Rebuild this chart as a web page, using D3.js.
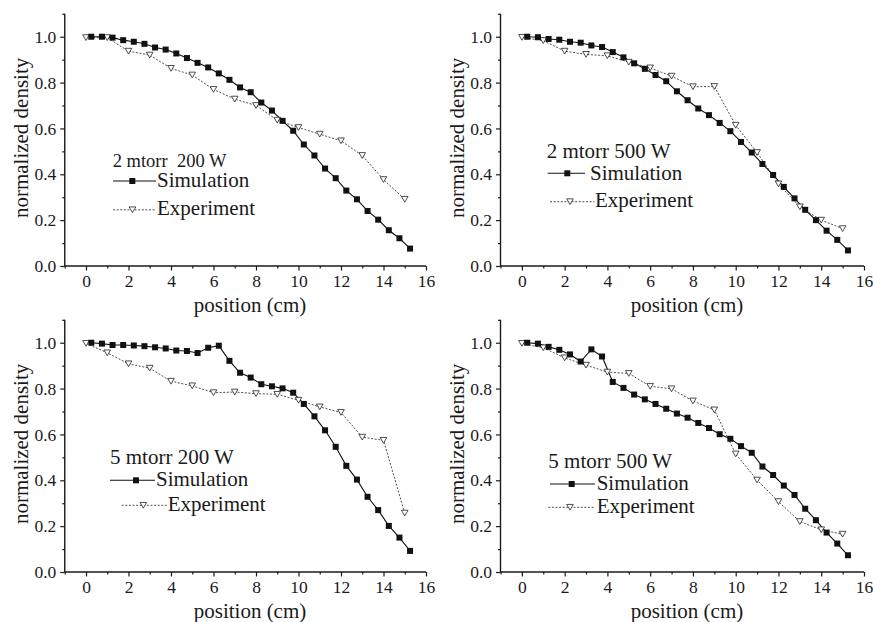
<!DOCTYPE html>
<html>
<head>
<meta charset="utf-8">
<script src="https://cdn.jsdelivr.net/npm/d3@7"></script>
<style>
  body { margin: 0; background: #fff; }
  .domain, .tick line { stroke: #1a1a1a; }
</style>
</head>
<body>
<div id="chart"></div>
<script>
// positions (cm)
const simPos = [0.25, 0.75, 1.25, 1.75, 2.25, 2.75, 3.25, 3.75, 4.25, 4.75, 5.25, 5.75, 6.25, 6.75, 7.25,
  7.75, 8.25, 8.75, 9.25, 9.75, 10.25, 10.75, 11.25, 11.75, 12.25, 12.75, 13.25, 13.75, 14.25, 14.75, 15.25];
const expPos = [0, 1, 2, 3, 4, 5, 6, 7, 8, 9, 10, 11, 12, 13, 14, 15];

// normalized density
const sim_2_200 = [1.0, 1.0, 0.996, 0.985, 0.978, 0.969, 0.953, 0.944, 0.927, 0.907, 0.886, 0.866, 0.84, 0.812, 0.779,
  0.758, 0.713, 0.678, 0.633, 0.59, 0.53, 0.482, 0.425, 0.383, 0.329, 0.291, 0.24, 0.202, 0.156, 0.121, 0.076];
const exp_2_200 = [0.996, 0.996, 0.937, 0.92, 0.862, 0.833, 0.77, 0.728, 0.7, 0.636, 0.604, 0.575, 0.546, 0.482, 0.377, 0.291];

const sim_2_500 = [1.0, 0.998, 0.99, 0.987, 0.978, 0.974, 0.962, 0.955, 0.933, 0.91, 0.884, 0.86, 0.833, 0.806, 0.762,
  0.723, 0.687, 0.658, 0.624, 0.588, 0.541, 0.495, 0.445, 0.397, 0.345, 0.295, 0.245, 0.2, 0.154, 0.114, 0.068];
const exp_2_500 = [0.997, 0.983, 0.937, 0.923, 0.917, 0.889, 0.864, 0.828, 0.782, 0.783, 0.614, 0.495, 0.358, 0.258, 0.2, 0.163];

const sim_5_200 = [1.0, 0.996, 0.99, 0.99, 0.988, 0.985, 0.98, 0.975, 0.966, 0.964, 0.955, 0.978, 0.987, 0.921, 0.869,
  0.848, 0.819, 0.81, 0.801, 0.782, 0.733, 0.679, 0.618, 0.546, 0.463, 0.403, 0.328, 0.27, 0.201, 0.15, 0.092];
const exp_5_200 = [0.997, 0.956, 0.908, 0.889, 0.832, 0.812, 0.782, 0.785, 0.778, 0.775, 0.749, 0.72, 0.696, 0.588, 0.574, 0.257];

const sim_5_500 = [1.0, 0.996, 0.982, 0.969, 0.949, 0.918, 0.971, 0.94, 0.829, 0.803, 0.774, 0.753, 0.733, 0.712, 0.691,
  0.673, 0.65, 0.628, 0.601, 0.581, 0.549, 0.52, 0.46, 0.423, 0.377, 0.336, 0.276, 0.226, 0.172, 0.124, 0.073];
const exp_5_500 = [0.997, 0.978, 0.934, 0.902, 0.872, 0.866, 0.81, 0.799, 0.746, 0.707, 0.515, 0.401, 0.307, 0.22, 0.184, 0.165];

const titles = ['2 mtorr  200 W', '2 mtorr 500 W', '5 mtorr 200 W', '5 mtorr 500 W'];
const xMajor = [0, 2, 4, 6, 8, 10, 12, 14, 16];
const xMinor = [-1, 1, 3, 5, 7, 9, 11, 13, 15];
const yMajor = [0, 0.2, 0.4, 0.6, 0.8, 1.0];
const yMinor = [0.1, 0.3, 0.5, 0.7, 0.9, 1.1];

const width = 873, height = 622;
const serif = '"Liberation Serif", "Times New Roman", serif';

const svg = d3.select('#chart').append('svg')
  .attr('width', width)
  .attr('height', height);

// panel layout: x range (for -1..16), y range (for 0..1.1), legend spots
let panels = [
  { sim: sim_2_200, exp: exp_2_200, xr: [64.75, 426], yr: [266, 13.8],
    leg: { tSize: 18.5, title: [112.7, 166.5], sim: [113, 156, 181, 132.3], simT: [157, 187], exp: [113, 156, 209.8, 132.5], expT: [157, 215] } },
  { sim: sim_2_500, exp: exp_2_500, xr: [500.5, 864], yr: [266, 13.8],
    leg: { tSize: 21, title: [546.7, 158], sim: [547.7, 585, 173.3, 567.3], simT: [590, 180], exp: [550, 594.3, 201.7, 570], expT: [595, 206.7] } },
  { sim: sim_5_200, exp: exp_5_200, xr: [64.75, 426], yr: [572, 319.8],
    leg: { tSize: 21, title: [110, 464], sim: [110, 155, 480.3, 136], simT: [156, 486.4], exp: [121.7, 166.7, 505.3, 143.3], expT: [167.7, 511] } },
  { sim: sim_5_500, exp: exp_5_500, xr: [500.5, 864], yr: [572, 319.8],
    leg: { tSize: 21, title: [548.3, 468], sim: [550, 595, 484, 571.7], simT: [596.7, 490.4], exp: [548.3, 595, 507.3, 570], expT: [596.7, 513] } }
];

let sq = 6;     // square marker side
let tri = 6.6;  // triangle marker width

function triPath(cx, cy) {
  let h = tri * 0.87;
  return 'M' + (cx - tri / 2) + ',' + (cy - h / 2) + 'L' + (cx + tri / 2) + ',' + (cy - h / 2) + 'L' + cx + ',' + (cy + h / 2) + 'Z';
}

panels.forEach((p, k) => {
  let x = d3.scaleLinear().domain([-1, 16]).range(p.xr);
  let y = d3.scaleLinear().domain([0, 1.1]).range(p.yr);
  let g = svg.append('g');

  // axes
  let xAx = g.append('g').attr('transform', 'translate(0,' + y(0) + ')')
    .call(d3.axisBottom(x).tickValues(xMajor).tickSize(4.5).tickPadding(4).tickFormat(d3.format('d')));
  g.append('g').attr('transform', 'translate(0,' + y(0) + ')')
    .call(d3.axisBottom(x).tickValues(xMinor).tickSize(2.5).tickFormat(''))
    .select('.domain').remove();
  let yAx = g.append('g').attr('transform', 'translate(' + x(-1) + ',0)')
    .call(d3.axisLeft(y).tickValues(yMajor).tickSize(4.5).tickPadding(4).tickFormat(d3.format('.1f')));
  g.append('g').attr('transform', 'translate(' + x(-1) + ',0)')
    .call(d3.axisLeft(y).tickValues(yMinor).tickSize(2.5).tickFormat(''))
    .select('.domain').remove();

  g.selectAll('.domain').attr('stroke-width', 1.4);
  xAx.select('.domain').attr('d', 'M' + x(-1) + ',0H' + x(16));
  yAx.select('.domain').attr('d', 'M0,' + y(0) + 'V' + y(1.1));
  g.selectAll('.tick line').attr('stroke-width', 1.2);
  xAx.selectAll('.tick text').style('font-size', '17.5px').attr('dy', '0.72em');
  yAx.selectAll('.tick text').style('font-size', '17.5px');

  // axis titles
  g.append('text')
    .attr('x', (x(0) + x(16)) / 2 - 6)
    .attr('y', y(0) + 46)
    .attr('text-anchor', 'middle')
    .style('font-size', '21px')
    .text('position (cm)');
  g.append('text')
    .attr('transform', 'translate(' + (x(-1) - 37) + ',' + (y(0.55) - 2) + ') rotate(-90)')
    .attr('text-anchor', 'middle')
    .style('font-size', '21px')
    .text('normalized density');

  // experiment: dashed line + open triangles
  let expData = p.exp.map((v, i) => [expPos[i], v]);
  g.append('path')
    .datum(expData)
    .attr('fill', 'none')
    .attr('stroke', '#222')
    .attr('stroke-width', 0.8)
    .attr('stroke-dasharray', '2,1.6')
    .attr('d', d3.line().x(d => x(d[0])).y(d => y(d[1])));

  // simulation: solid line + filled squares
  let simData = p.sim.map((v, i) => [simPos[i], v]);
  g.append('path')
    .datum(simData)
    .attr('fill', 'none')
    .attr('stroke', '#111')
    .attr('stroke-width', 1.1)
    .attr('d', d3.line().x(d => x(d[0])).y(d => y(d[1])));

  g.selectAll('.tri')
    .data(expData)
    .enter().append('path')
    .attr('class', 'tri')
    .attr('d', d => triPath(x(d[0]), y(d[1])))
    .attr('fill', '#fff')
    .attr('stroke', '#222')
    .attr('stroke-width', 0.8);

  g.selectAll('.sq')
    .data(simData)
    .enter().append('rect')
    .attr('class', 'sq')
    .attr('x', d => x(d[0]) - sq / 2)
    .attr('y', d => y(d[1]) - sq / 2)
    .attr('width', sq)
    .attr('height', sq)
    .attr('fill', '#111');

  // * LEGEND * //
  let L = p.leg;
  g.append('text')
    .attr('x', L.title[0]).attr('y', L.title[1])
    .style('font-size', L.tSize + 'px')
    .style('white-space', 'pre')
    .text(titles[k]);

  g.append('line')
    .attr('x1', L.sim[0]).attr('x2', L.sim[1])
    .attr('y1', L.sim[2]).attr('y2', L.sim[2])
    .attr('stroke', '#111').attr('stroke-width', 1.1);
  g.append('rect')
    .attr('x', L.sim[3] - sq / 2).attr('y', L.sim[2] - sq / 2)
    .attr('width', sq).attr('height', sq)
    .attr('fill', '#111');
  g.append('text')
    .attr('x', L.simT[0]).attr('y', L.simT[1])
    .style('font-size', '21px')
    .text('Simulation');

  g.append('line')
    .attr('x1', L.exp[0]).attr('x2', L.exp[1])
    .attr('y1', L.exp[2]).attr('y2', L.exp[2])
    .attr('stroke', '#222').attr('stroke-width', 0.8)
    .attr('stroke-dasharray', '2,1.6');
  g.append('path')
    .attr('d', triPath(L.exp[3], L.exp[2]))
    .attr('fill', '#fff').attr('stroke', '#222').attr('stroke-width', 0.8);
  g.append('text')
    .attr('x', L.expT[0]).attr('y', L.expT[1])
    .style('font-size', '21px')
    .text('Experiment');
});

// every label in a Times-like serif
svg.selectAll('text')
  .style('font-family', serif)
  .attr('fill', '#1a1a1a');
</script>
</body>
</html>
